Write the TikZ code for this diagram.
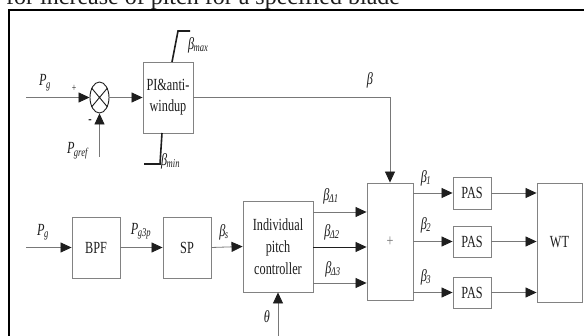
\documentclass[tikz,border=0pt]{standalone}
\usepackage{fontspec}
\setmainfont[FakeStretch=0.72]{Liberation Serif}
\newfontfamily\titlefont{Liberation Serif}
\usetikzlibrary{arrows.meta,shapes.geometric,calc}
\definecolor{ln}{RGB}{120,120,120}
\definecolor{bx}{RGB}{130,130,130}
\definecolor{tx}{RGB}{30,30,30}
\newcommand\lbl[2]{\textit{#1}\textsubscript{\kern-0.05em\textit{#2}}}
\begin{document}
\begin{tikzpicture}[x=1pt,y=-1pt,
  every node/.style={text=tx,font=\fontsize{17}{19}\selectfont},
  blk/.style={draw=bx,line width=0.9pt,inner sep=0pt,align=center},
  arr/.style={draw=ln,line width=0.8pt,-{Triangle[length=11pt,width=10pt,color=tx]}},
  wire/.style={draw=ln,line width=0.8pt},
  sat/.style={draw=tx,line width=1.6pt},
  lab/.style={inner sep=0pt}]
\useasboundingbox (0,0) rectangle (584,336);
\fill[white] (0,0) rectangle (584,336);
% title (cut by the page edge)
\node[anchor=base west,inner sep=0pt,font=\titlefont\fontsize{24}{26}\selectfont] (title) at (6,5) {for increase of pitch for a specified blade};
% frame
\draw[black,line width=2.4pt] (9,336) -- (9,10) -- (584,10);
% blocks
\node[draw=tx,line width=0.9pt,ellipse,minimum width=19pt,minimum height=31pt,inner sep=0pt] (sum) at (99.5,97.5) {};
\draw[tx,line width=0.9pt] (sum.130) -- (sum.-50) (sum.50) -- (sum.230);
\node[blk,minimum width=50pt,minimum height=71pt] (PI) at (168,97.5) {PI\&anti-\\[2pt]windup};
\node[blk,minimum width=48pt,minimum height=61pt] (BPF) at (96,247.5) {BPF};
\node[blk,minimum width=48pt,minimum height=61pt] (SP) at (187,247.5) {SP};
\node[blk,minimum width=70pt,minimum height=91pt] (IPC) at (278,246.5) {Individual\\[3pt]pitch\\[3pt]controller};
\node[blk,minimum width=46pt,minimum height=117pt,text=ln] (plus) at (390,241.5) {+};
\node[blk,minimum width=38pt,minimum height=32pt] (PAS1) at (472,193) {PAS};
\node[blk,minimum width=38pt,minimum height=31pt] (PAS2) at (472,241.5) {PAS};
\node[blk,minimum width=38pt,minimum height=31pt] (PAS3) at (472,292.5) {PAS};
\node[blk,minimum width=45pt,minimum height=119pt] (WT) at (559.5,242.5) {WT};
% saturation marks
\draw[sat] (172,62) -- (178,31) -- (190,31);
\draw[sat] (162,133) -- (160,164) -- (144,164);
% free ends
\coordinate (in1) at (26,97.5);
\coordinate (ref) at (99.5,157);
\coordinate (in2) at (26,247.5);
\coordinate (th) at (278,336);
% connectors
\draw[arr] (in1) -- (sum.west);
\draw[arr] (ref) -- (sum.south);
\draw[arr] (sum.east) -- (PI.west);
\draw[arr] (PI.east) -| (plus.north);
\draw[arr] (in2) -- (BPF.west);
\draw[arr] (BPF.east) -- (SP.west);
\draw[arr] (SP.east) -- (IPC.west);
\draw[arr] (th) -- (IPC.south);
\draw[arr] ($(IPC.east)+(0,-34.5)$) -- ($(plus.west)+(0,-29.5)$);
\draw[arr,draw=tx] ($(IPC.east)+(0,0.5)$) -- ($(plus.west)+(0,5.5)$);
\draw[arr] ($(IPC.east)+(0,36.5)$) -- ($(plus.west)+(0,41.5)$);
\draw[arr] (plus.east |- PAS1.west) -- (PAS1.west);
\draw[arr] (plus.east |- PAS2.west) -- (PAS2.west);
\draw[arr] (plus.east |- PAS3.west) -- (PAS3.west);
\draw[arr] (PAS1.east) -- (WT.west |- PAS1.east);
\draw[arr] (PAS2.east) -- (WT.west |- PAS2.east);
\draw[arr] (PAS3.east) -- (WT.west |- PAS3.east);
% labels
\node[lab] (lPg1) at (45,83) {\lbl{P}{g}};
\node[lab,font=\fontsize{11}{12}\selectfont] (lplus) at (74,88) {+};
\node[lab,font=\bfseries\fontsize{14}{14}\selectfont] (lminus) at (90,122) {-};
\node[lab] (lPref) at (78,151) {\lbl{P}{gref}};
\node[lab,anchor=west] (lbmax) at (188,45) {\lbl{β}{max}};
\node[lab,anchor=west] (lbmin) at (161,161) {\lbl{β}{min}};
\node[lab] (lb) at (370,80) {\textit{β}};
\node[lab] (lPg2) at (43,232) {\lbl{P}{g}};
\node[lab] (lPg3p) at (141,231) {\lbl{P}{g3p}};
\node[lab] (lbs) at (224,232) {\lbl{β}{s}};
\node[lab] (lbd1) at (331,196) {\lbl{β}{Δ1}};
\node[lab] (lbd2) at (332,232) {\lbl{β}{Δ2}};
\node[lab] (lbd3) at (333,269) {\lbl{β}{Δ3}};
\node[lab] (lb1) at (426,178) {\lbl{β}{1}};
\node[lab] (lb2) at (426,225) {\lbl{β}{2}};
\node[lab] (lb3) at (426,277) {\lbl{β}{3}};
\node[lab] (lth) at (267,317) {\textit{θ}};
\end{tikzpicture}
\end{document}
